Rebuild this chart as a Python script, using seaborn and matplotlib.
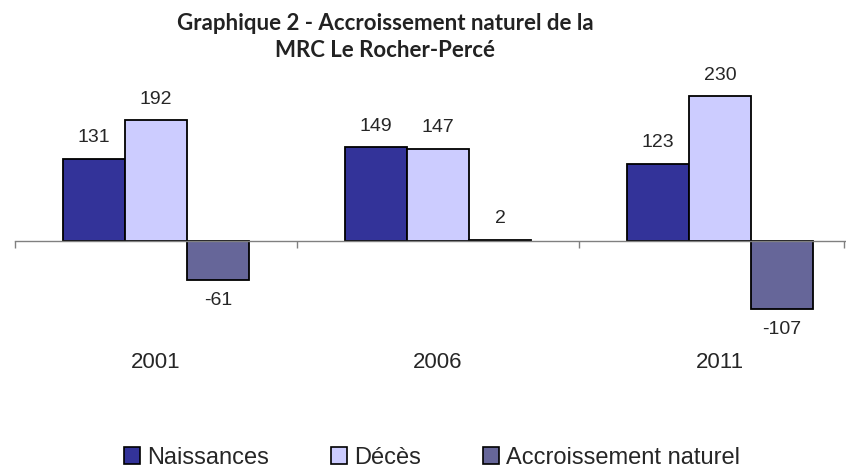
import matplotlib
matplotlib.use("Agg")
import matplotlib.pyplot as plt
from matplotlib.patches import Patch
import pandas as pd
import seaborn as sns

# data
years = ["2001", "2006", "2011"]
series = ["Naissances", "Décès", "Accroissement naturel"]
naissances = [131, 149, 123]
deces = [192, 147, 230]
accroissement = [-61, 2, -107]
colors = ["#333399", "#CCCCFF", "#666699"]

df = pd.DataFrame({
    "annee": years * 3,
    "serie": [s for s in series for _ in years],
    "valeur": naissances + deces + accroissement,
})

sns.set_theme(style="white")
plt.rcParams["font.family"] = ["Liberation Sans", "DejaVu Sans"]

fig = plt.figure(figsize=(8.46, 4.72), dpi=100)
ax = fig.add_axes([15 / 846, 1 - 330 / 472, 831 / 846, 250 / 472])

sns.barplot(data=df, x="annee", y="valeur", hue="serie", hue_order=series,
            palette=colors, saturation=1, width=0.66, edgecolor="black",
            linewidth=1.3, legend=False, ax=ax)

for cont in ax.containers:
    ax.bar_label(cont, fmt="%d", padding=9, fontsize=14)

ax.set_xlim(-0.5, 2.447)
ax.set_ylim(-141, 256)
for side in ["top", "right", "left"]:
    ax.spines[side].set_visible(False)
ax.spines["bottom"].set_position(("data", 0))
ax.spines["bottom"].set_color("#808080")
ax.spines["bottom"].set_linewidth(1)
ax.set_yticks([])
ax.set_xlabel("")
ax.set_ylabel("")

# group separators as major ticks, year labels as minor ticks
ax.set_xticks([-0.5, 0.5, 1.5, 2.44])
ax.set_xticklabels([])
ax.tick_params(axis="x", which="major", direction="out", length=5,
               color="#808080", width=1, bottom=True)
ax.set_xticks([0, 1, 2], minor=True)
ax.set_xticklabels(years, minor=True)
ax.tick_params(axis="x", which="minor", length=0, pad=80, labelsize=16)

fig.text(385 / 846, 1 - 37 / 472, "Graphique 2 - Accroissement naturel de la\nMRC Le Rocher-Percé",
         ha="center", va="center", fontsize=16, fontweight="bold",
         family=["Lato", "DejaVu Sans"], linespacing=1.35, color="#222222")

handles = [Patch(facecolor=c, edgecolor="black", linewidth=1.2) for c in colors]
fig.legend(handles, series, loc="center", bbox_to_anchor=(432 / 846, 1 - 458 / 472),
           ncol=3, frameon=False, fontsize=17, handlelength=0.7, handleheight=0.7,
           handletextpad=0.3, columnspacing=2.6)

fig.savefig("out.png", dpi=100)
